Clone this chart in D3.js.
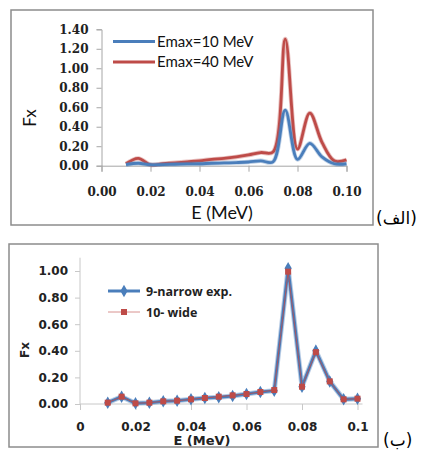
<!DOCTYPE html>
<html><head><meta charset="utf-8">
<script src="https://cdn.jsdelivr.net/npm/d3@7"></script>
<style>body{margin:0;background:#fff}</style>
</head><body>
<svg id="c" width="427" height="450"></svg>
<script>
// ---- data ----
const energies = [0.01,0.015,0.02,0.025,0.03,0.035,0.04,0.045,0.05,0.055,0.06,0.065,0.07,0.075,0.08,0.085,0.09,0.095,0.1];
const topSeriesNames = ["Emax=10 MeV","Emax=40 MeV"];
const emax10 = [0.01,0.025,0.01,0.012,0.015,0.018,0.02,0.025,0.028,0.032,0.038,0.05,0.04,0.57,0.065,0.23,0.09,0.02,0.02];
const emax40 = [0.02,0.075,0.01,0.02,0.03,0.04,0.05,0.065,0.075,0.09,0.11,0.135,0.14,1.30,0.17,0.54,0.24,0.05,0.06];
const topYTicks = [0,0.2,0.4,0.6,0.8,1.0,1.2,1.4];
const topXTicks = [0,0.02,0.04,0.06,0.08,0.1];

const botSeriesNames = ["9-narrow exp.","10- wide"];
const narrow9 = [0.01,0.055,0.005,0.01,0.02,0.025,0.035,0.045,0.05,0.06,0.075,0.09,0.10,1.02,0.13,0.40,0.17,0.035,0.04];
const wide10  = [0.01,0.055,0.005,0.01,0.02,0.025,0.035,0.045,0.055,0.065,0.075,0.09,0.105,0.995,0.13,0.39,0.17,0.035,0.04];
const botYTicks = [0,0.2,0.4,0.6,0.8,1.0];
const botXTicks = [0,0.02,0.04,0.06,0.08,0.1];

const BLUE = "#4a7ebb", RED = "#be4b48", AXIS = "#a6a6a6", FRAME = "#8c8c8c";
const svg = d3.select("#c");

// ---- top panel ----
svg.append("rect").attr("x",11).attr("y",10).attr("width",362).attr("height",215)
  .attr("fill","#fff").attr("stroke",FRAME).attr("stroke-width",1.5);
const tx = d3.scaleLinear().domain([0,0.1]).range([101.5,346.5]);
const ty = d3.scaleLinear().domain([0,1.4]).range([165.7,29.3]);
const tg = svg.append("g");
const tyAxis = tg.append("g").attr("transform",`translate(${tx(0)},0)`)
  .call(d3.axisLeft(ty).tickValues(topYTicks).tickSize(5).tickPadding(8).tickFormat(d3.format(".2f")));
const txAxis = tg.append("g").attr("transform",`translate(0,${ty(0)})`)
  .call(d3.axisBottom(tx).tickValues(topXTicks).tickSize(6).tickPadding(16).tickFormat(d3.format(".2f")));
[tyAxis,txAxis].forEach(a=>{
  a.selectAll("path,line").attr("stroke",AXIS);
  a.selectAll("text").attr("font-family","DejaVu Serif").attr("font-weight","bold").attr("font-size",12).attr("fill","#222");
});
const tline = d3.line().x((d,i)=>tx(energies[i])).y(d=>ty(d)).curve(d3.curveCatmullRom.alpha(0.5));
[[emax40,RED],[emax10,BLUE]].forEach(([s,c])=>{
  tg.append("path").datum(s).attr("d",tline).attr("fill","none").attr("stroke",c).attr("stroke-opacity",0.35).attr("stroke-width",4.5);
  tg.append("path").datum(s).attr("d",tline).attr("fill","none").attr("stroke",c).attr("stroke-width",2.8);
});
// legend
[[BLUE,41.5],[RED,62]].forEach(([c,y],i)=>{
  tg.append("line").attr("x1",113).attr("x2",155).attr("y1",y).attr("y2",y).attr("stroke",c).attr("stroke-width",3);
  tg.append("text").attr("x",157).attr("y",y+5).text(topSeriesNames[i])
    .attr("font-family","Lato").attr("font-size",15).attr("fill","#111");
});
tg.append("text").attr("transform","translate(36,118) rotate(-90)").attr("text-anchor","middle")
  .attr("font-family","Lato").attr("font-size",17).attr("fill","#111").text("Fx");
tg.append("text").attr("x",222).attr("y",219).attr("text-anchor","middle")
  .attr("font-family","Lato").attr("font-size",18).attr("fill","#111").text("E (MeV)");
svg.append("text").attr("x",376).attr("y",224).attr("text-anchor","start")
  .attr("font-family","DejaVu Sans").attr("font-size",17).attr("fill","#000").text("\u200E(الف)\u200E");

// ---- bottom panel ----
svg.append("rect").attr("x",9).attr("y",244).attr("width",369).attr("height",203)
  .attr("fill","#fff").attr("stroke",FRAME).attr("stroke-width",1.5);
const bx = d3.scaleLinear().domain([0,0.1]).range([80,357.5]);
const by = d3.scaleLinear().domain([0,1.1]).range([404,257.7]);
const bg = svg.append("g");
const byAxis = bg.append("g").attr("transform",`translate(${bx(0)},0)`)
  .call(d3.axisLeft(by).tickValues(botYTicks).tickSize(5).tickPadding(7).tickFormat(d3.format(".2f")));
const bxAxis = bg.append("g").attr("transform",`translate(0,${by(0)})`)
  .call(d3.axisBottom(bx).tickValues(botXTicks).tickSize(6).tickPadding(12).tickFormat(d=>d===0?"0":String(+d.toFixed(2))));
[byAxis,bxAxis].forEach(a=>{
  a.select("path.domain").attr("d", a===byAxis?`M0,${by(1.1)}V${by(0)}`:`M${bx(0)},0H${bx(0.1)+5}`);
  a.selectAll("path,line").attr("stroke","#c8c8c8");
  a.selectAll("text").attr("font-family","DejaVu Sans").attr("font-weight","bold").attr("font-size",12).attr("fill","#222");
});
const bline = d3.line().x((d,i)=>bx(energies[i])).y(d=>by(d));
const diamond = d3.symbol().type(d3.symbolDiamond).size(45);
bg.append("path").datum(narrow9).attr("d",bline).attr("fill","none").attr("stroke",BLUE).attr("stroke-opacity",0.4).attr("stroke-width",5);
bg.append("path").datum(narrow9).attr("d",bline).attr("fill","none").attr("stroke",BLUE).attr("stroke-width",3);
bg.selectAll(".dm").data(narrow9).join("path").attr("d",diamond)
  .attr("transform",(d,i)=>`translate(${bx(energies[i])},${by(d)})`).attr("fill",BLUE);
bg.append("path").datum(wide10).attr("d",bline).attr("fill","none").attr("stroke",RED).attr("stroke-opacity",0.8).attr("stroke-width",1);
bg.selectAll(".sq").data(wide10).join("rect")
  .attr("x",(d,i)=>bx(energies[i])-3).attr("y",d=>by(d)-3).attr("width",6).attr("height",6).attr("fill",RED);
// legend
bg.append("line").attr("x1",108).attr("x2",140).attr("y1",291).attr("y2",291).attr("stroke",BLUE).attr("stroke-width",3);
bg.append("path").attr("d",diamond).attr("transform","translate(124,291)").attr("fill",BLUE);
bg.append("line").attr("x1",108).attr("x2",140).attr("y1",312).attr("y2",312).attr("stroke",RED).attr("stroke-opacity",0.6).attr("stroke-width",1);
bg.append("rect").attr("x",121).attr("y",309).attr("width",6).attr("height",6).attr("fill",RED);
botSeriesNames.forEach((n,i)=>{
  bg.append("text").attr("x",146).attr("y",[291,312][i]+4.5).text(n)
    .attr("font-family","Open Sans").attr("font-weight","bold").attr("font-size",12.5).attr("fill","#222");
});
bg.append("text").attr("transform","translate(29,350) rotate(-90)").attr("text-anchor","middle")
  .attr("font-family","DejaVu Sans").attr("font-weight","bold").attr("font-size",12).attr("fill","#222").text("Fx");
bg.append("text").attr("x",202).attr("y",445).attr("text-anchor","middle")
  .attr("font-family","DejaVu Sans").attr("font-weight","bold").attr("font-size",13).attr("fill","#222").text("E (MeV)");
svg.append("text").attr("x",383).attr("y",446).attr("text-anchor","start")
  .attr("font-family","DejaVu Sans").attr("font-size",17).attr("fill","#000").text("\u200E(ب)\u200E");
</script>
</body></html>
